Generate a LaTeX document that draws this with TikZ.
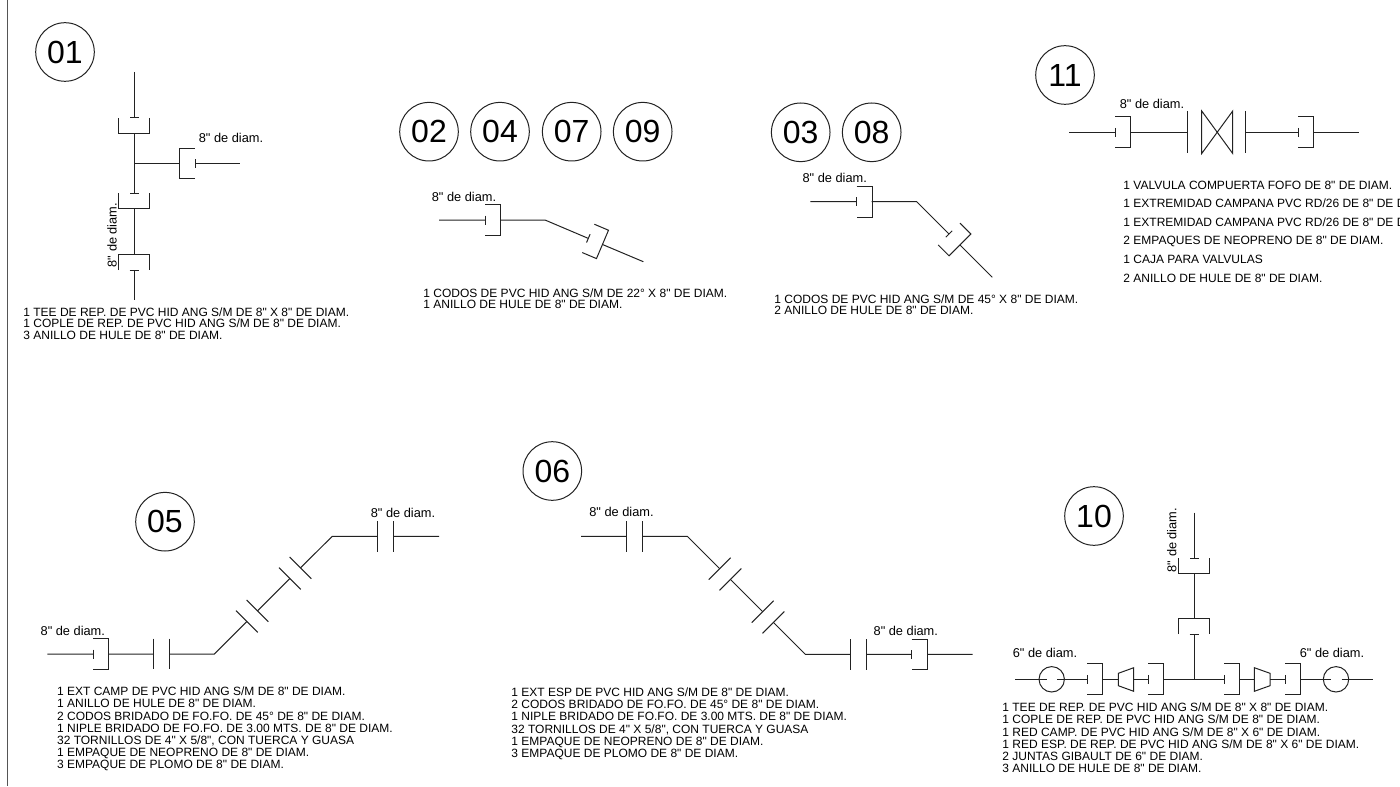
\documentclass[tikz,border=0pt]{standalone}
\usepackage{fontspec}
\newfontfamily\fuente{Liberation Sans}
\usepackage{xcolor}
\definecolor{marco}{HTML}{555555}
\definecolor{trazo}{HTML}{222222}
\tikzset{
	tubo/.style={draw=trazo, line width=0.5pt},
	numero/.style={circle, draw=trazo, line width=0.5pt, minimum size=29.3pt, inner sep=0pt, font=\fontsize{16}{16}\fuente},
	junta/.style={circle, draw=trazo, line width=0.5pt, minimum size=12.7pt, inner sep=0pt},
	diam/.style={inner sep=0pt, font=\fontsize{6.4}{7}\fuente},
	lista/.style={anchor=west, align=left, inner sep=0pt, text=black, font=\fontsize{6}{#1}\fuente}
}
% campana: the pipe enters along +x, the tick sits on the open side
\newcommand{\campana}[3]{
	\draw[tubo, shift={(#1,#2)}, rotate=#3] (0,-4.5) -- (0,4.5) (0,-15.4) -- (15.4,-15.4) -- (15.4,15.4) -- (0,15.4);
}
\newcommand{\brida}[3]{
	\draw[tubo, shift={(#1,#2)}, rotate=#3] (0,-15.4) -- (0,15.4);
}
\begin{document}
\begin{tikzpicture}[x=0.5pt,y=-0.5pt]
	\clip (0,0) rectangle (1400,786);
	\draw[marco, line width=0.65pt] (7.5,0) -- (7.5,786);

	\foreach \n/\cx/\cy in {01/65/52, 02/429/131.7, 04/500/131.7, 07/571.7/131.7, 09/642.7/131.7, 03/800.7/132.3, 08/871.7/132.3, 11/1065/75, 05/165/521.7, 06/552.3/471, 10/1094/516}
		{\node[numero] (n\n) at (\cx,\cy) {\n};}

	% 01
	\draw[tubo] (134,72) -- (134,118) (134,133.5) -- (134,193.5) (134,209) -- (134,254) (134,270) -- (134,300);
	\draw[tubo] (134,163.5) -- (180,163.5) (195,163.5) -- (240,163.5);
	\campana{134}{118}{-90}
	\campana{134}{193.5}{-90}
	\campana{134}{270}{90}
	\campana{195}{163.5}{180}
	\node[diam] (d01a) at (231,138) {8" de diam.};
	\node[diam, rotate=90] (d01b) at (112,235) {8" de diam.};
	\node[lista=5.65] (l01) at (23,323.7) {1 TEE DE REP. DE PVC HID ANG S/M DE 8" X 8" DE DIAM.\\1 COPLE DE REP. DE PVC HID ANG S/M DE 8" DE DIAM.\\3 ANILLO DE HULE DE 8" DE DIAM.};

	% 02 04 07 09
	\draw[tubo] (439,220) -- (485,220) (500,220) -- (545,220) -- (588.3,238.4) (602.5,244.5) -- (643.3,261.7);
	\campana{485}{220}{0}
	\campana{588.3}{238.4}{-23}
	\node[diam] (d02) at (464,196.7) {8" de diam.};
	\node[lista=5.65] (l02) at (423,298.5) {1 CODOS DE PVC HID ANG S/M DE 22° X 8" DE DIAM.\\1 ANILLO DE HULE DE 8" DE DIAM.};

	% 03 08
	\draw[tubo] (810.3,201.7) -- (856.7,201.7) (871.7,201.7) -- (916.7,201.7) -- (949,234) (960,245) -- (992.3,277.3);
	\campana{856.7}{201.7}{0}
	\campana{949}{234}{-45}
	\node[diam] (d03) at (834.7,178.3) {8" de diam.};
	\node[lista=5.65] (l03) at (774,304.5) {1 CODOS DE PVC HID ANG S/M DE 45° X 8" DE DIAM.\\2 ANILLO DE HULE DE 8" DE DIAM.};

	% 11
	\draw[tubo] (1069,132.3) -- (1115,132.3) (1130.4,132.3) -- (1187.7,132.3) (1245.7,132.3) -- (1298.3,132.3) (1313.7,132.3) -- (1359,132.3);
	\campana{1115}{132.3}{0}
	\campana{1298.3}{132.3}{0}
	\draw[tubo] (1187.7,111) -- (1187.7,153.5) (1245.7,111) -- (1245.7,153.5);
	\draw[tubo] (1201.7,111) -- (1232.7,153.5) -- (1232.7,111) -- (1201.7,153.5) -- cycle;
	\node[diam] (d11) at (1152,104.3) {8" de diam.};
	\node[lista=9.3] (l11) at (1123,231.4) {1 VALVULA COMPUERTA FOFO DE 8" DE DIAM.\\1 EXTREMIDAD CAMPANA PVC RD/26 DE 8" DE DIAM.\\1 EXTREMIDAD CAMPANA PVC RD/26 DE 8" DE DIAM.\\2 EMPAQUES DE NEOPRENO DE 8" DE DIAM.\\1 CAJA PARA VALVULAS\\2 ANILLO DE HULE DE 8" DE DIAM.};

	% 05
	\draw[tubo] (47.3,654) -- (93.3,654) (108.7,654) -- (153.7,654) (169,654) -- (214.3,654) -- (246.8,621.5) (257.5,610.8) -- (289.8,578.5) (300.5,567.8) -- (332.3,536.3) -- (377.7,536.3) (393,536.3) -- (439,536.3);
	\campana{93.3}{654}{0}
	\foreach \bx/\by/\rot in {153.7/654/0, 169/654/0, 246.8/621.5/45, 257.5/610.8/45, 289.8/578.5/45, 300.5/567.8/45, 377.7/536.8/0, 393/536.8/0}
		{\brida{\bx}{\by}{\rot}}
	\node[diam] (d05a) at (72.8,631) {8" de diam.};
	\node[diam] (d05b) at (403,512.7) {8" de diam.};
	\node[lista=6.1] (l05) at (56.7,729) {1 EXT CAMP DE PVC HID ANG S/M DE 8" DE DIAM.\\1 ANILLO DE HULE DE 8" DE DIAM.\\2 CODOS BRIDADO DE FO.FO. DE 45° DE 8" DE DIAM.\\1 NIPLE BRIDADO DE FO.FO. DE 3.00 MTS. DE 8" DE DIAM.\\32 TORNILLOS DE 4" X 5/8", CON TUERCA Y GUASA\\1 EMPAQUE DE NEOPRENO DE 8" DE DIAM.\\3 EMPAQUE DE PLOMO DE 8" DE DIAM.};

	% 06
	\draw[tubo] (581,536.3) -- (626.7,536.3) (642,536.3) -- (687.3,536.3) -- (719.7,568.7) (730.4,579.4) -- (762.7,611.7) (773.4,622.4) -- (805.3,654.3) -- (850.7,654.3) (866,654.3) -- (911.7,654.3) (927,654.3) -- (972.7,654.3);
	\foreach \bx/\by/\rot in {626.7/536.7/0, 642/536.7/0, 719.7/568.7/-45, 730.4/579.4/-45, 762.7/611.7/-45, 773.4/622.4/-45, 850.7/654.5/0, 866/654.5/0}
		{\brida{\bx}{\by}{\rot}}
	\campana{911.7}{654.5}{0}
	\node[diam] (d06a) at (621.5,512.3) {8" de diam.};
	\node[diam] (d06b) at (905.8,630.7) {8" de diam.};
	\node[lista=6.1] (l06) at (511,723.8) {1 EXT ESP DE PVC HID ANG S/M DE 8" DE DIAM.\\2 CODOS BRIDADO DE FO.FO. DE 45° DE 8" DE DIAM.\\1 NIPLE BRIDADO DE FO.FO. DE 3.00 MTS. DE 8" DE DIAM.\\32 TORNILLOS DE 4" X 5/8", CON TUERCA Y GUASA\\1 EMPAQUE DE NEOPRENO DE 8" DE DIAM.\\3 EMPAQUE DE PLOMO DE 8" DE DIAM.};

	% 10
	\draw[tubo] (1194,512.7) -- (1194,558.3) (1194,573.5) -- (1194,618.3) (1194,634) -- (1194,679.3);
	\campana{1194}{558.3}{-90}
	\campana{1194}{634}{90}
	\draw[tubo] (1015.3,679.3) -- (1046.7,679.3) (1057,679.3) -- (1087.3,679.3) (1102.7,679.3) -- (1118.3,679.3) (1133.7,679.3) -- (1148.3,679.3) (1163.7,679.3) -- (1224.3,679.3) (1239.7,679.3) -- (1254.3,679.3) (1270,679.3) -- (1285.3,679.3) (1300.7,679.3) -- (1330.7,679.3) (1341.7,679.3) -- (1373.3,679.3);
	\foreach \bx in {1087.3, 1148.3, 1224.3, 1285.3}
		{\campana{\bx}{679.3}{0}}
	\node[junta] (j10a) at (1051.7,679.3) {};
	\node[junta] (j10b) at (1336,679.3) {};
	\draw[tubo] (1118.3,673.3) -- (1133.7,667.7) -- (1133.7,691.3) -- (1118.3,685.7) -- cycle;
	\draw[tubo] (1254.3,667.7) -- (1270,673.3) -- (1270,685.7) -- (1254.3,691.3) -- cycle;
	\node[diam] (d10a) at (1045,653.3) {6" de diam.};
	\node[diam] (d10b) at (1332,653.3) {6" de diam.};
	\node[diam, rotate=90] (d10c) at (1171.7,540) {8" de diam.};
	\node[lista=6.1] (l10) at (1002,738) {1 TEE DE REP. DE PVC HID ANG S/M DE 8" X 8" DE DIAM.\\1 COPLE DE REP. DE PVC HID ANG S/M DE 8" DE DIAM.\\1 RED CAMP. DE PVC HID ANG S/M DE 8" X 6" DE DIAM.\\1 RED ESP. DE REP. DE PVC HID ANG S/M DE 8" X 6" DE DIAM.\\2 JUNTAS GIBAULT DE 6" DE DIAM.\\3 ANILLO DE HULE DE 8" DE DIAM.};
\end{tikzpicture}
\end{document}
